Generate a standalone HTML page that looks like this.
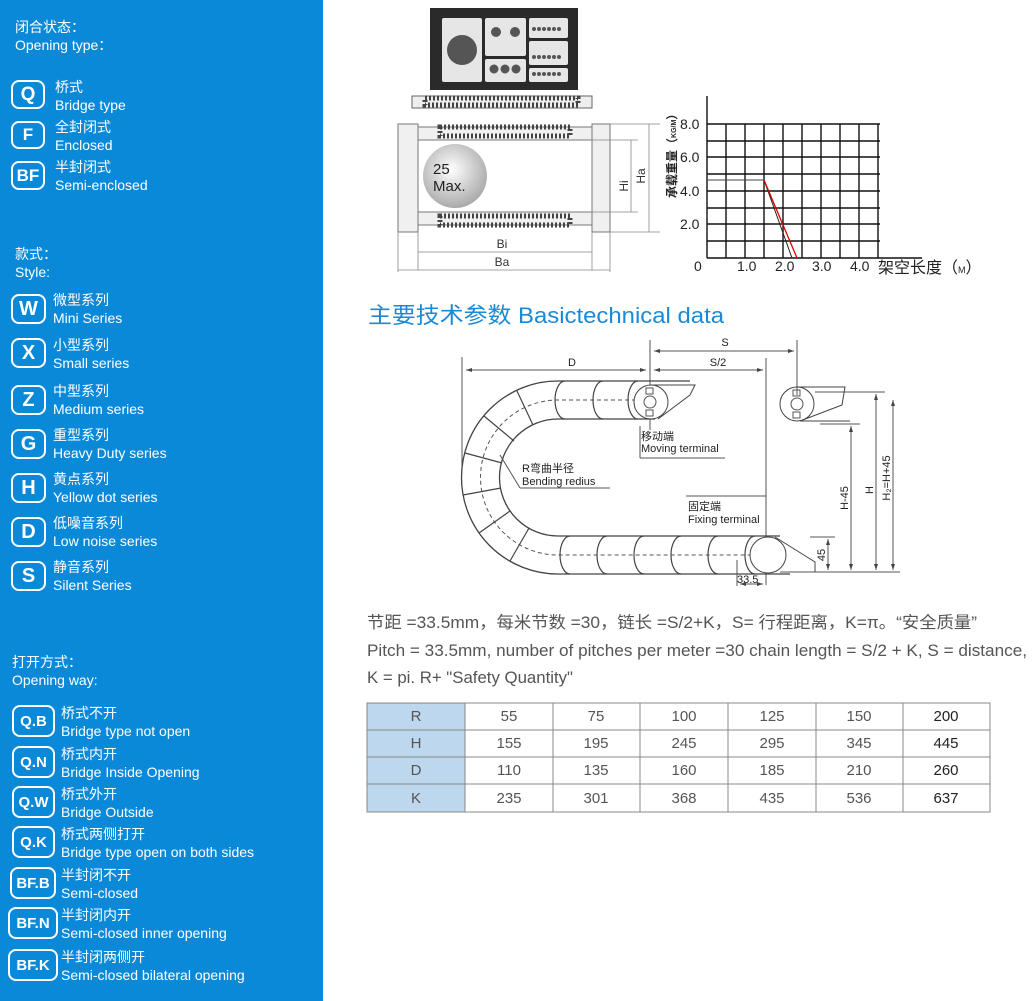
<!DOCTYPE html>
<html><head><meta charset="utf-8"><style>
html,body{margin:0;padding:0;background:#fff}
body{width:1036px;height:1001px;position:relative;overflow:hidden;font-family:"Liberation Sans","Noto Sans CJK SC",sans-serif}
#side{position:absolute;left:0;top:0;width:323px;height:1001px;background:#0a89d9;color:#fff}
.t{position:absolute;font-size:14px;line-height:17.5px;white-space:nowrap}
.b{position:absolute;border:2.5px solid #fff;border-radius:8px;box-sizing:border-box;color:#fff;font-weight:bold;display:flex;align-items:center;justify-content:center}
svg text{font-family:"Liberation Sans","Noto Sans CJK SC",sans-serif}
</style></head><body>
<div id="side">
<div class="t" style="left:15px;top:19px">闭合状态：<br>Opening type：</div>
<div class="b" style="left:11px;top:80px;width:34px;height:29px;font-size:19px">Q</div>
<div class="t" style="left:55px;top:79px">桥式<br>Bridge type</div>
<div class="b" style="left:11px;top:121px;width:34px;height:28px;font-size:17px">F</div>
<div class="t" style="left:55px;top:119px">全封闭式<br>Enclosed</div>
<div class="b" style="left:11px;top:161px;width:34px;height:29px;font-size:17px">BF</div>
<div class="t" style="left:55px;top:159px">半封闭式<br>Semi-enclosed</div>
<div class="t" style="left:15px;top:246px">款式：<br>Style:</div>
<div class="b" style="left:11px;top:294px;width:35px;height:30px;font-size:20px">W</div>
<div class="t" style="left:53px;top:292px">微型系列<br>Mini Series</div>
<div class="b" style="left:11px;top:338px;width:35px;height:30px;font-size:20px">X</div>
<div class="t" style="left:53px;top:337px">小型系列<br>Small series</div>
<div class="b" style="left:11px;top:385px;width:35px;height:30px;font-size:20px">Z</div>
<div class="t" style="left:53px;top:383px">中型系列<br>Medium series</div>
<div class="b" style="left:11px;top:429px;width:35px;height:30px;font-size:20px">G</div>
<div class="t" style="left:53px;top:427px">重型系列<br>Heavy Duty series</div>
<div class="b" style="left:11px;top:473px;width:35px;height:30px;font-size:20px">H</div>
<div class="t" style="left:53px;top:471px">黄点系列<br>Yellow dot series</div>
<div class="b" style="left:11px;top:517px;width:35px;height:30px;font-size:20px">D</div>
<div class="t" style="left:53px;top:515px">低噪音系列<br>Low noise series</div>
<div class="b" style="left:11px;top:561px;width:35px;height:30px;font-size:20px">S</div>
<div class="t" style="left:53px;top:559px">静音系列<br>Silent Series</div>
<div class="t" style="left:12px;top:654px">打开方式：<br>Opening way:</div>
<div class="b" style="left:12px;top:705px;width:43px;height:32px;font-size:15px">Q.B</div>
<div class="t" style="left:61px;top:705px">桥式不开<br>Bridge type not open</div>
<div class="b" style="left:12px;top:746px;width:43px;height:32px;font-size:15px">Q.N</div>
<div class="t" style="left:61px;top:746px">桥式内开<br>Bridge Inside Opening</div>
<div class="b" style="left:12px;top:786px;width:43px;height:32px;font-size:15px">Q.W</div>
<div class="t" style="left:61px;top:786px">桥式外开<br>Bridge Outside</div>
<div class="b" style="left:12px;top:826px;width:43px;height:32px;font-size:15px">Q.K</div>
<div class="t" style="left:61px;top:826px">桥式两侧打开<br>Bridge type open on both sides</div>
<div class="b" style="left:10px;top:867px;width:46px;height:32px;font-size:15px">BF.B</div>
<div class="t" style="left:61px;top:867px">半封闭不开<br>Semi-closed</div>
<div class="b" style="left:8px;top:907px;width:50px;height:32px;font-size:15px">BF.N</div>
<div class="t" style="left:61px;top:907px">半封闭内开<br>Semi-closed inner opening</div>
<div class="b" style="left:8px;top:949px;width:50px;height:32px;font-size:15px">BF.K</div>
<div class="t" style="left:61px;top:949px">半封闭两侧开<br>Semi-closed bilateral opening</div>
</div>

<svg width="1036" height="1001" style="position:absolute;left:0;top:0" xmlns="http://www.w3.org/2000/svg">
<!-- top frame -->
<rect x="430" y="8" width="148" height="82" fill="#2a2a2a"/>
<rect x="442" y="18" width="40" height="64" fill="#e6e6e6" rx="2"/>
<circle cx="462" cy="50" r="15" fill="#555"/>
<rect x="485" y="18" width="41" height="38" fill="#e6e6e6" rx="2"/>
<circle cx="496" cy="32" r="5" fill="#555"/><circle cx="515" cy="32" r="5" fill="#555"/>
<rect x="485" y="59" width="41" height="23" fill="#e6e6e6" rx="2"/>
<circle cx="494" cy="69" r="4.5" fill="#555"/><circle cx="505" cy="69" r="4.5" fill="#555"/><circle cx="516" cy="69" r="4.5" fill="#555"/>
<rect x="529" y="18" width="39" height="20" fill="#e6e6e6" rx="2"/>
<rect x="529" y="41" width="39" height="24" fill="#e6e6e6" rx="2"/>
<rect x="529" y="68" width="39" height="14" fill="#e6e6e6" rx="2"/>
<g fill="#555"><circle cx="534" cy="29" r="2"/><circle cx="539" cy="29" r="2"/><circle cx="544" cy="29" r="2"/><circle cx="549" cy="29" r="2"/><circle cx="554" cy="29" r="2"/><circle cx="559" cy="29" r="2"/>
<circle cx="534" cy="57" r="2"/><circle cx="539" cy="57" r="2"/><circle cx="544" cy="57" r="2"/><circle cx="549" cy="57" r="2"/><circle cx="554" cy="57" r="2"/><circle cx="559" cy="57" r="2"/>
<circle cx="534" cy="74" r="2"/><circle cx="539" cy="74" r="2"/><circle cx="544" cy="74" r="2"/><circle cx="549" cy="74" r="2"/><circle cx="554" cy="74" r="2"/><circle cx="559" cy="74" r="2"/></g>
<!-- strip -->
<rect x="412" y="96" width="180" height="12" fill="#eee" stroke="#666"/>
<rect x="425" y="98" width="153" height="7" fill="none" stroke="#444" stroke-dasharray="2,2" stroke-width="5"/>
<!-- section -->
<g stroke="#777" fill="#f0f0f0">
<rect x="398" y="124" width="20" height="108"/>
<rect x="592" y="124" width="18" height="108"/>
<rect x="418" y="127" width="174" height="13"/>
<rect x="418" y="212" width="174" height="13"/>
</g>
<rect x="440" y="127" width="130" height="9" fill="none" stroke="#444" stroke-dasharray="2,2" stroke-width="5"/>
<rect x="440" y="216" width="130" height="9" fill="none" stroke="#444" stroke-dasharray="2,2" stroke-width="5"/>
<defs><radialGradient id="g" cx="0.45" cy="0.4" r="0.6"><stop offset="0" stop-color="#fff"/><stop offset="1" stop-color="#aaa"/></radialGradient></defs>
<circle cx="455" cy="176" r="32" fill="url(#g)"/>
<text x="433" y="174" font-size="15" fill="#222">25</text>
<text x="433" y="191" font-size="15" fill="#222">Max.</text>
<g stroke="#888" stroke-width="0.8" fill="none">
<line x1="610" y1="124" x2="660" y2="124"/><line x1="610" y1="232" x2="660" y2="232"/>
<line x1="590" y1="140" x2="638" y2="140"/><line x1="590" y1="212" x2="638" y2="212"/>
<line x1="631" y1="140" x2="631" y2="212"/><line x1="649" y1="124" x2="649" y2="232"/>
<line x1="418" y1="232" x2="418" y2="270"/><line x1="592" y1="232" x2="592" y2="270"/>
<line x1="398" y1="232" x2="398" y2="272"/><line x1="610" y1="232" x2="610" y2="272"/>
<line x1="418" y1="252" x2="592" y2="252"/><line x1="398" y1="270" x2="610" y2="270"/>
</g>
<text x="624" y="186" font-size="12" fill="#333" transform="rotate(-90 624 186)" text-anchor="middle" dy="4">Hi</text>
<text x="641" y="176" font-size="12" fill="#333" transform="rotate(-90 641 176)" text-anchor="middle" dy="4">Ha</text>
<text x="502" y="248" font-size="12" fill="#333" text-anchor="middle">Bi</text>
<text x="502" y="266" font-size="12" fill="#333" text-anchor="middle">Ba</text>
<!-- chart -->
<g stroke="#111" stroke-width="1.4" fill="none">
<line x1="707" y1="96" x2="707" y2="258"/>
<line x1="707" y1="258" x2="922" y2="258"/>
<path d="M707 124H880M707 141H880M707 157H880M707 174H880M707 191H880M707 208H880M707 224H880M707 241H880"/>
<path d="M726 124V258M745 124V258M764 124V258M783 124V258M802 124V258M821 124V258M840 124V258M859 124V258M878 124V258"/>
</g>
<line x1="707" y1="180" x2="764" y2="180" stroke="#444"/>
<line x1="764" y1="180" x2="792" y2="258" stroke="#222"/>
<line x1="764" y1="180" x2="797" y2="258" stroke="#d00" stroke-width="1.3"/>
<g font-size="14" fill="#222">
<text x="680" y="129">8.0</text><text x="680" y="162">6.0</text><text x="680" y="196">4.0</text><text x="680" y="229">2.0</text>
<text x="694" y="271">0</text><text x="737" y="271">1.0</text><text x="775" y="271">2.0</text><text x="812" y="271">3.0</text><text x="850" y="271">4.0</text>
<text x="878" y="273" font-size="16">架空长度（<tspan font-size="9">M</tspan>）</text>
</g>
<text x="676" y="198" font-size="12" font-weight="bold" fill="#222" transform="rotate(-90 676 198)">承载重量（<tspan font-size="7">KG/M</tspan>）</text>
<!-- heading -->
<text x="368" y="323" font-size="22" fill="#1a8ad6" textLength="356" lengthAdjust="spacingAndGlyphs">主要技术参数  Basictechnical data</text>
<!-- chain diagram -->
<g stroke="#555" stroke-width="1" fill="none">
<line x1="462" y1="357" x2="462" y2="470"/>
<line x1="650" y1="340" x2="650" y2="430"/>
<line x1="797" y1="340" x2="797" y2="395"/>
<line x1="766" y1="358" x2="766" y2="585"/>
<line x1="466" y1="370" x2="646" y2="370"/><line x1="654" y1="370" x2="763" y2="370"/>
<line x1="654" y1="351" x2="794" y2="351"/>
<path d="M690 381 H558 A96 96 0 0 0 558 574 H790" stroke="#444" stroke-width="1.3"/>
<path d="M655 419 H558 A58 58 0 0 0 558 536 H780" stroke="#444" stroke-width="1.3"/>
<path d="M650 400 H558 A77 77 0 0 0 558 555 H770" stroke-dasharray="4,3"/>
<g stroke="#444" stroke-width="1.2">
<path d="M565 381 a10 19 0 0 0 0 38"/><path d="M603 381 a10 19 0 0 0 0 38"/><path d="M638 381 a10 19 0 0 0 0 38"/>
<path d="M570 536 a10 19 0 0 0 0 38"/><path d="M607 536 a10 19 0 0 0 0 38"/><path d="M644 536 a10 19 0 0 0 0 38"/><path d="M681 536 a10 19 0 0 0 0 38"/><path d="M718 536 a10 19 0 0 0 0 38"/><path d="M755 536 a10 19 0 0 0 0 38"/>
<line x1="517" y1="391" x2="533" y2="425"/><line x1="484" y1="416" x2="514" y2="441"/><line x1="465" y1="453" x2="502" y2="463"/>
<line x1="463" y1="495" x2="501" y2="488"/><line x1="479" y1="533" x2="510" y2="511"/><line x1="510" y1="561" x2="529" y2="528"/>
</g>
<circle cx="651" cy="402" r="17" fill="#fff" stroke="#444"/>
<path d="M651 385 H695 L690 395 L658 419" stroke="#444"/>
<circle cx="650" cy="402" r="6"/><rect x="646" y="388" width="7" height="6"/><rect x="646" y="410" width="7" height="6"/>
<circle cx="797" cy="404" r="17" stroke="#444"/>
<path d="M797 387 H845 L842 405 L800 421 H850" stroke="#444"/>
<circle cx="797" cy="404" r="6"/><rect x="793" y="390" width="7" height="6"/><rect x="793" y="412" width="7" height="6"/>
<circle cx="768" cy="555" r="18" fill="#fff" stroke="#444"/>
<path d="M775 537 L815 562 V572 H780" stroke="#444"/>
<line x1="640" y1="426" x2="640" y2="458"/><line x1="640" y1="458" x2="725" y2="458"/>
<line x1="520" y1="488" x2="610" y2="488"/><line x1="500" y1="455" x2="520" y2="488"/>
<line x1="686" y1="496" x2="766" y2="496"/>
<line x1="780" y1="572" x2="900" y2="572"/><line x1="810" y1="537" x2="835" y2="537"/>
<line x1="815" y1="392" x2="885" y2="392"/><line x1="820" y1="424" x2="860" y2="424"/>
<line x1="828" y1="539" x2="828" y2="570"/><line x1="851" y1="426" x2="851" y2="570"/>
<line x1="876" y1="394" x2="876" y2="570"/><line x1="893" y1="400" x2="893" y2="570"/>
<line x1="737" y1="560" x2="737" y2="586"/><line x1="740" y1="584" x2="763" y2="584"/>
</g>
<g font-size="11" fill="#222">
<text x="572" y="366" text-anchor="middle">D</text>
<text x="718" y="366" text-anchor="middle">S/2</text>
<text x="725" y="346" text-anchor="middle">S</text>
<text x="641" y="440">移动端</text><text x="641" y="452">Moving terminal</text>
<text x="522" y="472">R弯曲半径</text><text x="522" y="485">Bending redius</text>
<text x="688" y="510">固定端</text><text x="688" y="523">Fixing terminal</text>
<text x="737" y="583">33.5</text>
<text x="825" y="555" transform="rotate(-90 825 555)" text-anchor="middle">45</text>
<text x="848" y="498" transform="rotate(-90 848 498)" text-anchor="middle">H-45</text>
<text x="873" y="490" transform="rotate(-90 873 490)" text-anchor="middle">H</text>
<text x="890" y="478" transform="rotate(-90 890 478)" text-anchor="middle">H₂=H+45</text>
</g>
<g fill="#444"><path d="M466 370l6-2v4zM646 370l-6-2v4zM654 370l6-2v4zM763 370l-6-2v4zM654 351l6-2v4zM794 351l-6-2v4zM851 426l-2 6h4zM876 394l-2 6h4zM893 400l-2 6h4zM851 570l-2-6h4zM876 570l-2-6h4zM893 570l-2-6h4zM828 539l-2 6h4zM828 570l-2-6h4zM740 584l6-2v4zM763 584l-6-2v4z"/></g>
<!-- text lines -->
<g font-size="16.5" fill="#555">
<text x="367" y="628" textLength="610" lengthAdjust="spacingAndGlyphs">节距 =33.5mm，每米节数 =30，链长 =S/2+K，S= 行程距离，K=π。“安全质量”</text>
<text x="367" y="656" textLength="660" lengthAdjust="spacingAndGlyphs">Pitch = 33.5mm, number of pitches per meter =30 chain length = S/2 + K, S = distance,</text>
<text x="367" y="683" textLength="206" lengthAdjust="spacingAndGlyphs">K = pi. R+ "Safety Quantity"</text>
</g>
<!-- table -->
<rect x="367" y="703" width="98" height="109" fill="#bdd7ef"/>
<g stroke="#888" stroke-width="1" fill="none">
<rect x="367" y="703" width="623" height="109"/>
<path d="M367 730H990M367 757H990M367 784H990M465 703V812M553 703V812M640 703V812M728 703V812M816 703V812M903 703V812"/>
</g>
<g font-size="15" fill="#555" text-anchor="middle">
<text x="416" y="721">R</text><text x="509" y="721">55</text><text x="596" y="721">75</text><text x="684" y="721">100</text><text x="772" y="721">125</text><text x="859" y="721">150</text><text x="946" y="721" fill="#222">200</text>
<text x="416" y="748">H</text><text x="509" y="748">155</text><text x="596" y="748">195</text><text x="684" y="748">245</text><text x="772" y="748">295</text><text x="859" y="748">345</text><text x="946" y="748" fill="#222">445</text>
<text x="416" y="775">D</text><text x="509" y="775">110</text><text x="596" y="775">135</text><text x="684" y="775">160</text><text x="772" y="775">185</text><text x="859" y="775">210</text><text x="946" y="775" fill="#222">260</text>
<text x="416" y="803">K</text><text x="509" y="803">235</text><text x="596" y="803">301</text><text x="684" y="803">368</text><text x="772" y="803">435</text><text x="859" y="803">536</text><text x="946" y="803" fill="#222">637</text>
</g>
</svg>
</body></html>
